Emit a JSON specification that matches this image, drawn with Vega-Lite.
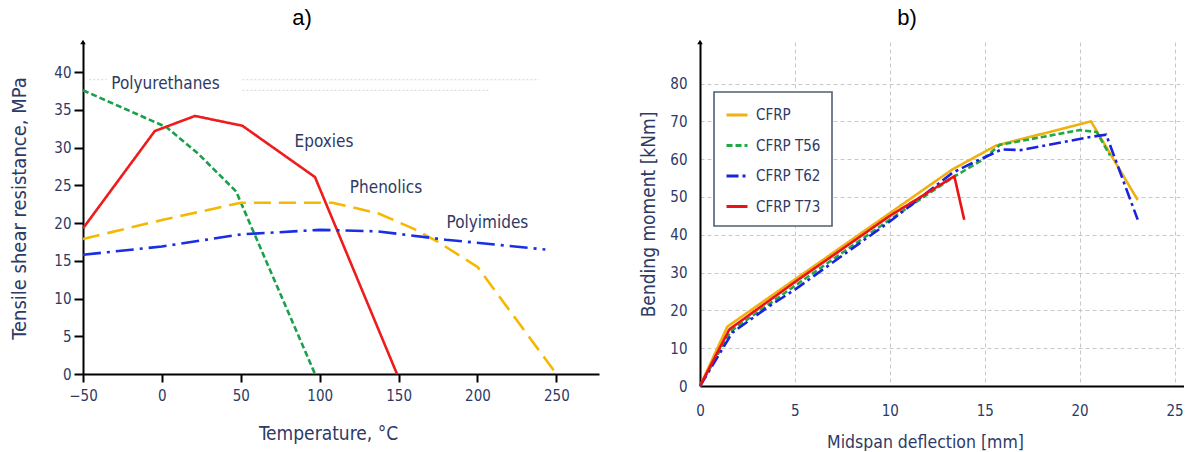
{
  "$schema": "https://vega.github.io/schema/vega-lite/v6.json",
  "background": "white",
  "padding": {"left": 9, "top": 6, "right": 0, "bottom": 0},
  "spacing": 40,
  "config": {"view": {"stroke": null}, "font": "DejaVu Sans Condensed, DejaVu Sans"},
  "resolve": {"scale": {"color": "independent", "strokeDash": "independent"}},
  "hconcat": [
    {
      "width": 516,
      "height": 332,
      "title": {"text": "a)", "font": "Liberation Sans", "fontSize": 22, "fontWeight": "normal", "color": "black", "dx": -39, "offset": 10},
      "layer": [
        {
          "data": {"values": [
            {"x": -46, "x2": -35, "y": 39.0},
            {"x": 51, "x2": 239, "y": 39.0},
            {"x": 51, "x2": 208, "y": 37.6}
          ]},
          "mark": {"type": "rule", "color": "#d4d4d4", "strokeDash": [2, 2], "strokeWidth": 1},
          "encoding": {
            "x": {"field": "x", "type": "quantitative", "scale": {"domain": [-50, 277], "nice": false},
              "axis": {"title": "Temperature, °C", "values": [-50, 0, 50, 100, 150, 200, 250], "grid": false, "domainColor": "black", "domainWidth": 2, "tickColor": "black", "tickWidth": 2, "tickSize": 8, "labelFontSize": 15, "labelColor": "#2d3a66", "labelPadding": 6, "labelFlush": false, "titleFontSize": 19, "titleFontWeight": "normal", "titleColor": "#2d3a66", "titlePadding": 21, "titleX": 245}},
            "x2": {"field": "x2"},
            "y": {"field": "y", "type": "quantitative", "scale": {"domain": [0, 44], "nice": false},
              "axis": {"title": "Tensile shear resistance, MPa", "values": [0, 5, 10, 15, 20, 25, 30, 35, 40], "grid": false, "domainColor": "black", "domainWidth": 2, "tickColor": "black", "tickWidth": 2, "tickSize": 9, "labelFontSize": 15, "labelColor": "#2d3a66", "labelPadding": 3, "titleFontSize": 20, "titleFontWeight": "normal", "titleColor": "#2d3a66", "titlePadding": 24}}
          }
        },
        {
          "data": {"values": [
            {"s": "Polyurethanes", "x": -50, "y": 37.6},
            {"s": "Polyurethanes", "x": 3, "y": 32.7},
            {"s": "Polyurethanes", "x": 23, "y": 29.2},
            {"s": "Polyurethanes", "x": 47, "y": 24.2},
            {"s": "Polyurethanes", "x": 97, "y": 0},
            {"s": "Epoxies", "x": -50, "y": 19.3},
            {"s": "Epoxies", "x": -4.5, "y": 32.2},
            {"s": "Epoxies", "x": 21, "y": 34.2},
            {"s": "Epoxies", "x": 51, "y": 32.9},
            {"s": "Epoxies", "x": 97, "y": 26.1},
            {"s": "Epoxies", "x": 149, "y": 0},
            {"s": "Phenolics", "x": -50, "y": 17.9},
            {"s": "Phenolics", "x": 0, "y": 20.4},
            {"s": "Phenolics", "x": 50, "y": 22.7},
            {"s": "Phenolics", "x": 108, "y": 22.7},
            {"s": "Phenolics", "x": 137, "y": 21.3},
            {"s": "Phenolics", "x": 160, "y": 19.2},
            {"s": "Phenolics", "x": 175, "y": 17.5},
            {"s": "Phenolics", "x": 200, "y": 14.2},
            {"s": "Phenolics", "x": 250, "y": 0},
            {"s": "Polyimides", "x": -50, "y": 15.8},
            {"s": "Polyimides", "x": 0, "y": 16.9},
            {"s": "Polyimides", "x": 50, "y": 18.5},
            {"s": "Polyimides", "x": 100, "y": 19.1},
            {"s": "Polyimides", "x": 137, "y": 18.9},
            {"s": "Polyimides", "x": 180, "y": 17.8},
            {"s": "Polyimides", "x": 243, "y": 16.5}
          ]},
          "mark": {"type": "line", "strokeWidth": 2.6},
          "encoding": {
            "x": {"field": "x", "type": "quantitative"},
            "y": {"field": "y", "type": "quantitative"},
            "color": {"field": "s", "type": "nominal", "legend": null,
              "scale": {"domain": ["Polyurethanes", "Epoxies", "Phenolics", "Polyimides"], "range": ["#1a9f4a", "#ee1c1c", "#f5b800", "#1a2ee6"]}},
            "strokeDash": {"field": "s", "type": "nominal", "legend": null,
              "scale": {"domain": ["Polyurethanes", "Epoxies", "Phenolics", "Polyimides"], "range": [[6, 3], [1, 0], [17, 8], [18, 6, 3, 6]]}}
          }
        },
        {
          "data": {"values": [
            {"t": "Polyurethanes", "x": 2.3, "y": 38.4},
            {"t": "Epoxies", "x": 102.7, "y": 30.8},
            {"t": "Phenolics", "x": 142, "y": 24.7},
            {"t": "Polyimides", "x": 206.3, "y": 20.05}
          ]},
          "mark": {"type": "text", "fontSize": 17, "color": "#2d3a66", "align": "center", "baseline": "middle"},
          "encoding": {
            "x": {"field": "x", "type": "quantitative"},
            "y": {"field": "y", "type": "quantitative"},
            "text": {"field": "t"}
          }
        },
        {
          "data": {"values": [{"x": -50, "y": 44}]},
          "mark": {"type": "point", "shape": "triangle-up", "filled": true, "color": "black", "size": 30, "opacity": 1},
          "encoding": {
            "x": {"field": "x", "type": "quantitative"},
            "y": {"field": "y", "type": "quantitative"}
          }
        }
      ]
    },
    {
      "width": 484,
      "height": 344,
      "title": {"text": "b)", "font": "Liberation Sans", "fontSize": 22, "fontWeight": "normal", "color": "black", "dx": -35, "offset": 10},
      "layer": [
        {
          "data": {"values": [
            {"s": "CFRP", "x": 0, "y": 0},
            {"s": "CFRP", "x": 1.44, "y": 15.7},
            {"s": "CFRP", "x": 13.3, "y": 57.3},
            {"s": "CFRP", "x": 15.6, "y": 63.6},
            {"s": "CFRP", "x": 20.6, "y": 70},
            {"s": "CFRP", "x": 23.06, "y": 49.2},
            {"s": "CFRP T56", "x": 0, "y": 0},
            {"s": "CFRP T56", "x": 1.62, "y": 14.5},
            {"s": "CFRP T56", "x": 5, "y": 26.5},
            {"s": "CFRP T56", "x": 10, "y": 44},
            {"s": "CFRP T56", "x": 13.3, "y": 55.1},
            {"s": "CFRP T56", "x": 14.9, "y": 59.9},
            {"s": "CFRP T56", "x": 15.8, "y": 63.8},
            {"s": "CFRP T56", "x": 20, "y": 67.7},
            {"s": "CFRP T56", "x": 20.9, "y": 67.2},
            {"s": "CFRP T56", "x": 21.6, "y": 61},
            {"s": "CFRP T62", "x": 0, "y": 0},
            {"s": "CFRP T62", "x": 1.7, "y": 14.1},
            {"s": "CFRP T62", "x": 3.64, "y": 21.1},
            {"s": "CFRP T62", "x": 5, "y": 25.5},
            {"s": "CFRP T62", "x": 10, "y": 43.5},
            {"s": "CFRP T62", "x": 13.3, "y": 56.4},
            {"s": "CFRP T62", "x": 14.35, "y": 59},
            {"s": "CFRP T62", "x": 15.9, "y": 62.6},
            {"s": "CFRP T62", "x": 16.9, "y": 62.4},
            {"s": "CFRP T62", "x": 20.35, "y": 65.7},
            {"s": "CFRP T62", "x": 21.4, "y": 66.5},
            {"s": "CFRP T62", "x": 23.06, "y": 44},
            {"s": "CFRP T73", "x": 0, "y": 0},
            {"s": "CFRP T73", "x": 1.55, "y": 15},
            {"s": "CFRP T73", "x": 5, "y": 27.5},
            {"s": "CFRP T73", "x": 10, "y": 45},
            {"s": "CFRP T73", "x": 13.4, "y": 55.5},
            {"s": "CFRP T73", "x": 13.92, "y": 44}
          ]},
          "mark": {"type": "line", "strokeWidth": 2.6},
          "encoding": {
            "x": {"field": "x", "type": "quantitative", "scale": {"domain": [0, 25.5], "nice": false},
              "axis": {"title": "Midspan deflection [mm]", "values": [0, 5, 10, 15, 20, 25], "grid": true, "gridColor": "#c8c8c8", "gridDash": [4, 3], "gridWidth": 1, "ticks": false, "domainColor": "black", "domainWidth": 2, "labelFontSize": 15, "labelColor": "#2d3a66", "labelPadding": 17, "labelFlush": false, "titleFontSize": 17.5, "titleFontWeight": "normal", "titleColor": "#2d3a66", "titlePadding": 15, "titleX": 225}},
            "y": {"field": "y", "type": "quantitative", "scale": {"domain": [0, 91], "nice": false},
              "axis": {"title": "Bending moment [kNm]", "values": [0, 10, 20, 30, 40, 50, 60, 70, 80], "grid": true, "gridColor": "#c8c8c8", "gridDash": [4, 3], "gridWidth": 1, "ticks": false, "domainColor": "black", "domainWidth": 2, "labelFontSize": 15, "labelColor": "#2d3a66", "labelPadding": 13, "titleFontSize": 19, "titleFontWeight": "normal", "titleColor": "#2d3a66", "titlePadding": 11}},
            "color": {"field": "s", "type": "nominal",
              "scale": {"domain": ["CFRP", "CFRP T56", "CFRP T62", "CFRP T73"], "range": ["#efb010", "#22a845", "#1a22e0", "#ee1111"]},
              "legend": {"title": null, "orient": "none", "legendX": 14, "legendY": 50, "fillColor": "white", "strokeColor": "#4f6075", "padding": 11, "symbolType": "stroke", "symbolSize": 440, "symbolStrokeWidth": 3, "labelFontSize": 15, "labelColor": "#2d3a66", "rowPadding": 10.5, "labelOffset": 7,
                "encode": {"legend": {"update": {"strokeWidth": {"value": 1.6}}}}}},
            "strokeDash": {"field": "s", "type": "nominal",
              "scale": {"domain": ["CFRP", "CFRP T56", "CFRP T62", "CFRP T73"], "range": [[1, 0], [6, 3], [12, 4, 3, 4], [1, 0]]},
              "legend": {"title": null, "orient": "none", "legendX": 14, "legendY": 50, "fillColor": "white", "strokeColor": "#4f6075", "padding": 11, "symbolType": "stroke", "symbolSize": 440, "symbolStrokeWidth": 3, "labelFontSize": 15, "labelColor": "#2d3a66", "rowPadding": 10.5, "labelOffset": 7,
                "encode": {"legend": {"update": {"strokeWidth": {"value": 1.6}}}}}}
          }
        },
        {
          "data": {"values": [{"x": 0, "y": 91}]},
          "mark": {"type": "point", "shape": "triangle-up", "filled": true, "color": "black", "size": 30, "opacity": 1},
          "encoding": {
            "x": {"field": "x", "type": "quantitative"},
            "y": {"field": "y", "type": "quantitative"}
          }
        }
      ]
    }
  ]
}
